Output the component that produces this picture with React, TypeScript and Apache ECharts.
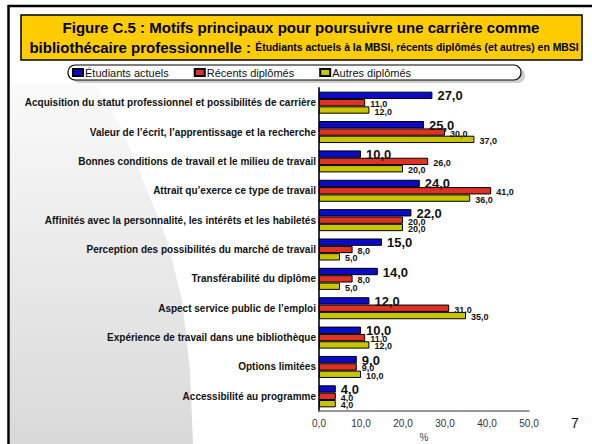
import React, { useEffect, useRef } from "react";
import * as echarts from "echarts";

const categories = [
  "Acquisition du statut professionnel et possibilités de carrière",
  "Valeur de l’écrit, l’apprentissage et la recherche",
  "Bonnes conditions de travail et le milieu de travail",
  "Attrait qu’exerce ce type de travail",
  "Affinités avec la personnalité, les intérêts et les habiletés",
  "Perception des possibilités du marché de travail",
  "Transférabilité du diplôme",
  "Aspect service public de l’emploi",
  "Expérience de travail dans une bibliothèque",
  "Options limitées",
  "Accessibilité au programme",
];
const seriesNames = ["Étudiants actuels", "Récents diplômés", "Autres diplômés"];
const etudiants = [27, 25, 10, 24, 22, 15, 14, 12, 10, 9, 4];
const recents = [11, 30, 26, 41, 20, 8, 8, 31, 11, 9, 4];
const autres = [12, 37, 20, 36, 20, 5, 5, 35, 12, 10, 4];
const xTicks = { min: 0, max: 50, interval: 10 };

const FONT = "Liberation Sans, Arial, sans-serif";
const fmt = (v: number) => v.toFixed(1).replace(".", ",");

export default function App() {
  const ref = useRef<HTMLDivElement>(null);
  useEffect(() => {
    if (!ref.current) return;
    const chart = echarts.init(ref.current, undefined, { renderer: "svg" });
    const mk = (name: string, data: number[], color: string, big: boolean) => ({
      name,
      type: "bar",
      data,
      barGap: "0%",
      barCategoryGap: "25%",
      itemStyle: { color, borderColor: "#000", borderWidth: 1 },
      label: {
        show: true,
        position: "right",
        distance: 5,
        offset: big ? [0, 0.5] : [0, 1.5],
        formatter: (p: any) => fmt(p.value),
        fontFamily: FONT,
        fontWeight: "bold",
        fontSize: big ? 13 : 9,
        color: "#111",
      },
      z: 3,
    });
    chart.setOption({
      animation: false,
      backgroundColor: "#fff",
      textStyle: { fontFamily: FONT },
      grid: { left: 319, right: 63, top: 88, bottom: 33, containLabel: false, outerBoundsMode: "none" },
      legend: {
        data: seriesNames,
        left: 72,
        top: 67,
        icon: "rect",
        itemWidth: 10,
        itemHeight: 7,
        itemGap: 25,
        padding: 0,
        textStyle: { fontFamily: FONT, fontSize: 11, color: "#111", padding: [0, 0, 0, -3] },
      },
      xAxis: {
        type: "value",
        min: xTicks.min,
        max: xTicks.max,
        interval: xTicks.interval,
        name: "%",
        nameLocation: "middle",
        nameGap: 21,
        nameTextStyle: { fontFamily: FONT, fontSize: 10, color: "#444" },
        axisLine: { show: true, lineStyle: { color: "#777", width: 1.5 } },
        axisTick: { show: false },
        splitLine: { show: false },
        axisLabel: { formatter: (v: number) => fmt(v), fontFamily: FONT, fontSize: 10, color: "#333", margin: 7 },
      },
      yAxis: {
        type: "category",
        data: categories,
        inverse: true,
        axisLine: { show: true, lineStyle: { color: "#333", width: 2 } },
        axisTick: { show: false },
        axisLabel: { fontFamily: FONT, fontSize: 10, fontWeight: "bold", color: "#111", margin: 3 },
      },
      series: [
        mk(seriesNames[0], etudiants, "#0A0AC8", true),
        mk(seriesNames[1], recents, "#E03222", false),
        mk(seriesNames[2], autres, "#C8C400", false),
      ],
      graphic: [
        {
          type: "polygon",
          z: -10,
          silent: true,
          shape: {
            points: [
              [10, 83], [95, 83], [120, 125], [143, 180], [167, 240], [182, 300], [190, 370], [193, 444], [10, 444],
            ],
          },
          style: {
            fill: new echarts.graphic.LinearGradient(0, 0, 0, 1, [
              { offset: 0, color: "#fafafa" },
              { offset: 1, color: "#d9d9d9" },
            ]),
          },
        },
        { type: "line", z: 5, silent: true, shape: { x1: 8, y1: 6, x2: 592, y2: 6 }, style: { stroke: "#000", lineWidth: 2.5 } },
        { type: "line", z: 5, silent: true, shape: { x1: 8.5, y1: 5, x2: 8.5, y2: 444 }, style: { stroke: "#000", lineWidth: 2.5 } },
        {
          type: "rect",
          z: 1,
          silent: true,
          shape: { x: 21, y: 15, width: 561, height: 45 },
          style: { fill: "#FFCC00", stroke: "#000", lineWidth: 1.5 },
        },
        {
          type: "text",
          z: 2,
          silent: true,
          x: 301,
          y: 27,
          style: {
            text: "Figure C.5 : Motifs principaux pour poursuivre une carrière comme",
            font: `bold 15px ${FONT}`,
            fill: "#000",
            align: "center",
            verticalAlign: "middle",
          },
        },
        {
          type: "text",
          z: 2,
          silent: true,
          x: 304,
          y: 47,
          style: {
            text: "{a|bibliothécaire professionnelle : }{b|Étudiants actuels à la MBSI, récents diplômés (et autres) en MBSI}",
            align: "center",
            verticalAlign: "middle",
            fill: "#000",
            rich: {
              a: { fontFamily: FONT, fontSize: 15, fontWeight: "bold", fill: "#000" },
              b: { fontFamily: FONT, fontSize: 10.4, fontWeight: "bold", fill: "#000" },
            },
          },
        },
        {
          type: "rect",
          z: 0,
          silent: true,
          shape: { x: 72, y: 68, width: 453, height: 15, r: 7 },
          style: { fill: "#cfcfcf" },
        },
        {
          type: "rect",
          z: 1,
          silent: true,
          shape: { x: 68, y: 65, width: 453, height: 15, r: 7 },
          style: { fill: "#fff", stroke: "#000", lineWidth: 1.2 },
        },
        {
          type: "text",
          silent: true,
          x: 575,
          y: 423,
          style: { text: "7", font: `14px ${FONT}`, fill: "#111", align: "center", verticalAlign: "middle" },
        },
      ],
    });
    return () => chart.dispose();
  }, []);
  return <div ref={ref} style={{ width: 592, height: 444, position: "absolute", left: 0, top: 0 }} />;
}
